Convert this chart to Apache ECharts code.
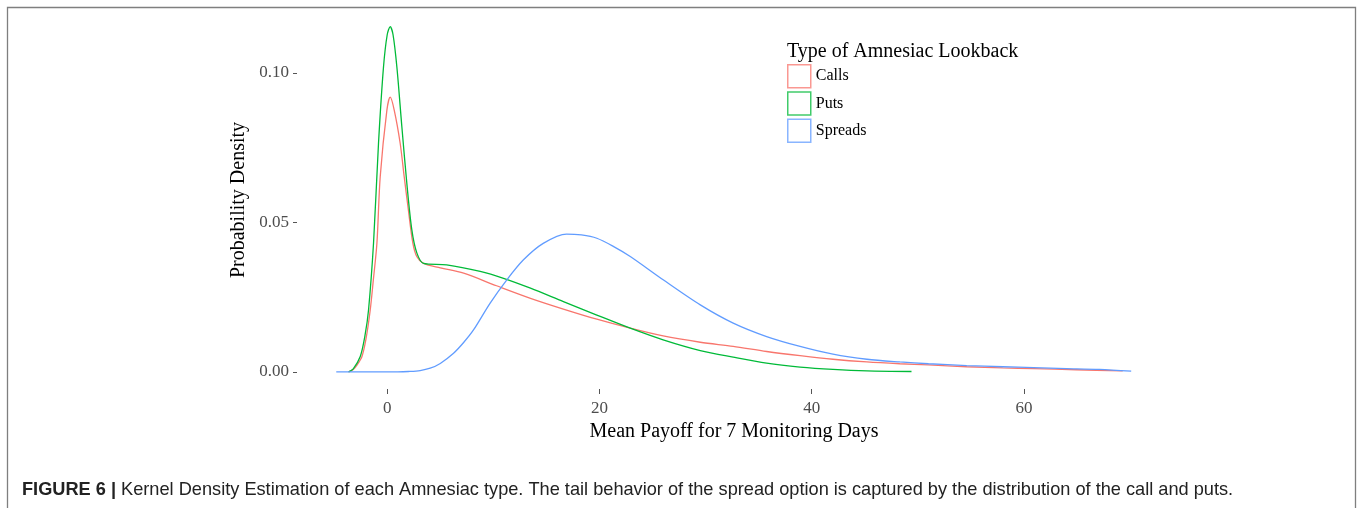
<!DOCTYPE html>
<html>
<head>
<meta charset="utf-8">
<script src="https://cdn.jsdelivr.net/npm/echarts@6/dist/echarts.min.js"></script>
<style>
html,body{margin:0;padding:0;background:#fff;}
#chart{width:1357px;height:508px;}
</style>
</head>
<body>
<div id="chart"></div>
<script>
// ---- Data (x = mean payoff, y = density) ----
var seriesNames = ['Calls', 'Puts', 'Spreads'];
var seriesColors = ['#F8766D', '#00BA38', '#619CFF'];

var callsData = [
  [-3.64,0],[-3.2,0.0008],[-2.8,0.0025],[-2.38,0.0051],[-2.0,0.011],[-1.6,0.0207],
  [-1.3,0.031],[-0.97,0.043],[-0.66,0.0653],[-0.03,0.0876],[0.28,0.0919],[0.66,0.0876],
  [1.22,0.0765],[1.6,0.0653],[2.0,0.054],[2.42,0.043],[2.8,0.0385],[3.42,0.0363],
  [5.0,0.0348],[7.2,0.033],[10.3,0.0288],[13.5,0.0246],[16.6,0.021],[19.75,0.0176],
  [22.9,0.0146],[26.0,0.012],[29.5,0.0099],[32.6,0.0085],[35.75,0.0068],[38.9,0.0054],
  [42.0,0.0042],[45.2,0.0033],[48.3,0.0027],[51.0,0.0023],[54.6,0.0017],[58.0,0.0013],
  [60.9,0.0011],[64.9,0.0007],[69.3,0.0003]
];
var putsData = [
  [-3.64,0],[-3.2,0.001],[-2.54,0.0051],[-2.1,0.012],[-1.76,0.0207],[-1.29,0.043],
  [-0.82,0.0765],[-0.35,0.102],[0.0,0.1128],[0.28,0.1155],[0.55,0.1128],[0.91,0.102],
  [1.38,0.082],[1.85,0.063],[2.32,0.0475],[2.79,0.0398],[3.42,0.0363],[5.6,0.0358],
  [8.76,0.0336],[10.96,0.0313],[13.5,0.028],[16.6,0.0235],[19.75,0.019],[22.9,0.0146],
  [26.0,0.0107],[29.5,0.0071],[32.6,0.0049],[35.75,0.0029],[38.9,0.0016],[42.0,0.0008],
  [45.2,0.0003],[49.4,0.0001]
];
var spreadsData = [
  [-4.8,0],[1.0,0],[2.0,0.0001],[3.1,0.0004],[4.05,0.0012],[5.0,0.0028],[6.25,0.0062],
  [7.2,0.0098],[8.13,0.014],[9.7,0.023],[11.27,0.0308],[12.84,0.0375],[14.7,0.043],
  [16.9,0.0461],[18.3,0.0458],[19.75,0.0447],[21.3,0.042],[22.9,0.0386],[26.0,0.0308],
  [29.5,0.0224],[32.6,0.0163],[35.75,0.0118],[38.9,0.0085],[42.0,0.0059],[45.2,0.0042],
  [48.3,0.0033],[51.0,0.0027],[54.6,0.0021],[58.0,0.0017],[60.9,0.0014],[64.0,0.0011],
  [67.1,0.0008],[70.1,0.0002]
];
var xTicks = [0, 20, 40, 60];
var yTicks = [0, 0.05, 0.10];

var xTitle = 'Mean Payoff for 7 Monitoring Days';
var yTitle = 'Probability Density';
var legendTitle = 'Type of Amnesiac Lookback';
var captionBold = 'FIGURE 6 |';
var captionText = ' Kernel Density Estimation of each Amnesiac type. The tail behavior of the spread option is captured by the distribution of the call and puts.';

// ---- Chart ----
var serif = '"Liberation Serif", "Times New Roman", serif';
var sans = '"Liberation Sans", Arial, sans-serif';
var chart = echarts.init(document.getElementById('chart'), null, {renderer: 'canvas'});
var allData = [callsData, putsData, spreadsData];

var option = {
  animation: false,
  backgroundColor: '#ffffff',
  title: [
    {
      text: legendTitle, left: 787, top: 42, padding: 0,
      textStyle: {fontFamily: serif, fontSize: 20, fontWeight: 'normal', color: '#000'}
    },
    {
      text: '{b|' + captionBold + '}{n|' + captionText + '}', left: 22, top: 481, padding: 0,
      textStyle: {
        rich: {
          b: {fontFamily: sans, fontSize: 18.2, fontWeight: 'bold', color: '#222'},
          n: {fontFamily: sans, fontSize: 18.2, fontWeight: 'normal', color: '#222'}
        }
      }
    }
  ],
  graphic: [
    {
      type: 'polyline', silent: true,
      shape: {points: [[7.5, 515], [7.5, 7.5], [1355.5, 7.5], [1355.5, 515]]},
      style: {stroke: '#7f7f7f', lineWidth: 1.3, fill: null}
    }
  ],
  legend: {
    orient: 'vertical', left: 787, top: 64, padding: 0,
    itemWidth: 23, itemHeight: 23, itemGap: 2.7,
    icon: 'rect',
    selectedMode: false,
    textStyle: {fontFamily: serif, fontSize: 16, color: '#000'},
    data: seriesNames.map(function (n, i) {
      return {name: n, itemStyle: {color: '#ffffff', borderColor: seriesColors[i], borderWidth: 1.5, opacity: 0.75}};
    })
  },
  grid: {left: 297, top: 11, width: 874, height: 378, containLabel: false},
  xAxis: {
    type: 'value', min: -8.5, max: 73.85,
    axisLine: {show: false, onZero: false},
    splitLine: {show: false},
    axisTick: {show: true, customValues: xTicks, length: 5, lineStyle: {color: '#555', width: 1}},
    axisLabel: {customValues: xTicks, margin: 11, fontFamily: serif, fontSize: 17, color: '#4d4d4d'},
    name: xTitle, nameLocation: 'middle', nameGap: 28,
    nameTextStyle: {fontFamily: serif, fontSize: 20, color: '#000'}
  },
  yAxis: {
    type: 'value', min: -0.00575, max: 0.12075,
    axisLine: {show: false, onZero: false},
    splitLine: {show: false},
    axisTick: {show: true, customValues: yTicks, length: 4, lineStyle: {color: '#555', width: 1}},
    axisLabel: {
      customValues: yTicks, margin: 8, fontFamily: serif, fontSize: 17, color: '#4d4d4d',
      formatter: function (v) { return v.toFixed(2); }
    },
    name: yTitle, nameLocation: 'middle', nameGap: 42, nameRotate: 90,
    nameTextStyle: {fontFamily: serif, fontSize: 20, color: '#000'}
  },
  series: seriesNames.map(function (n, i) {
    return {
      name: n, type: 'line', data: allData[i],
      smooth: 0.3,
      showSymbol: false, symbol: 'none',
      color: seriesColors[i],
      lineStyle: {color: seriesColors[i], width: 1.3},
      z: 2 + i
    };
  })
};
chart.setOption(option);
</script>
</body>
</html>
